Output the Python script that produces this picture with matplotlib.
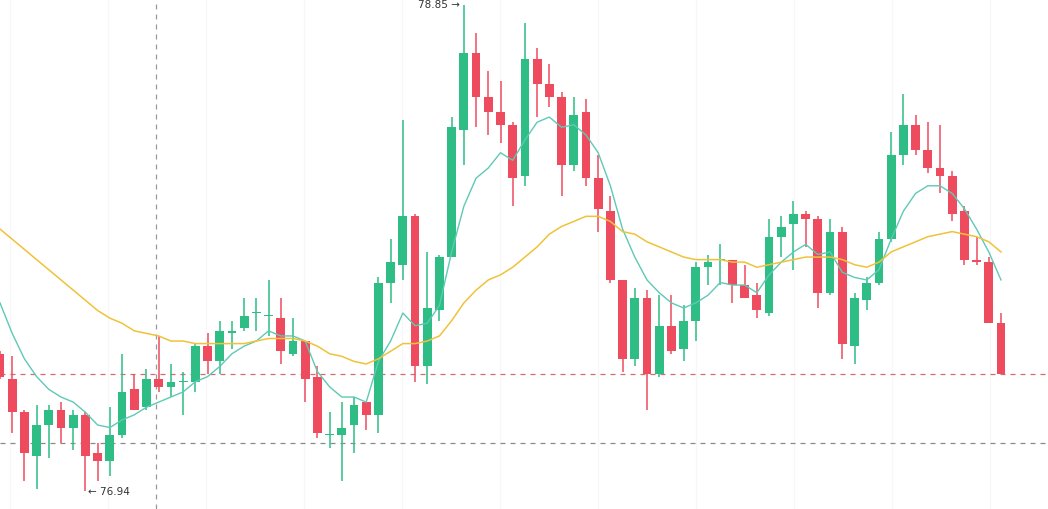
import numpy as np
import matplotlib
matplotlib.use("Agg")
import matplotlib.pyplot as plt

# candles (price units)
opens = [77.48, 77.38, 77.25, 77.08, 77.20, 77.26, 77.19, 77.24, 77.09, 77.06,
         77.16, 77.34, 77.27, 77.38, 77.35, 77.37, 77.37, 77.51, 77.45, 77.56,
         77.58, 77.64, 77.63, 77.62, 77.48, 77.53, 77.39, 77.16, 77.16, 77.20,
         77.29, 77.24, 77.76, 77.83, 78.02, 77.43, 77.65, 77.86, 78.36, 78.66,
         78.49, 78.43, 78.38, 78.18, 78.64, 78.54, 78.49, 78.22, 78.43, 78.17,
         78.04, 77.77, 77.46, 77.70, 77.40, 77.59, 77.50, 77.61, 77.82, 77.85,
         77.85, 77.75, 77.71, 77.64, 77.94, 77.99, 78.03, 78.01, 77.72, 77.96,
         77.51, 77.69, 77.76, 77.93, 78.26, 78.38, 78.28, 78.21, 78.18, 78.04,
         77.85, 77.84, 77.60]
highs = [77.49, 77.47, 77.26, 77.28, 77.28, 77.29, 77.26, 77.25, 77.13, 77.27,
         77.48, 77.40, 77.42, 77.55, 77.44, 77.41, 77.52, 77.56, 77.61, 77.61,
         77.70, 77.70, 77.77, 77.70, 77.62, 77.53, 77.43, 77.25, 77.29, 77.31,
         77.29, 77.78, 77.93, 78.40, 78.03, 77.88, 77.87, 78.41, 78.85, 78.74,
         78.59, 78.55, 78.39, 78.78, 78.68, 78.62, 78.51, 78.49, 78.48, 78.26,
         78.10, 77.77, 77.74, 77.73, 77.71, 77.71, 77.67, 77.84, 77.87, 77.91,
         77.85, 77.83, 77.76, 78.01, 78.02, 78.08, 78.04, 78.02, 78.01, 77.98,
         77.72, 77.78, 77.96, 78.35, 78.50, 78.42, 78.39, 78.38, 78.20, 78.06,
         77.94, 77.86, 77.64]
lows = [77.38, 77.17, 76.98, 76.95, 77.07, 77.13, 77.10, 76.94, 76.98, 77.00,
        77.15, 77.26, 77.26, 77.33, 77.31, 77.24, 77.33, 77.40, 77.40, 77.50,
        77.57, 77.57, 77.55, 77.44, 77.47, 77.29, 77.15, 77.11, 76.98, 77.09,
        77.18, 77.17, 77.68, 77.77, 77.37, 77.36, 77.61, 77.86, 78.22, 78.37,
        78.34, 78.31, 78.06, 78.14, 78.41, 78.45, 78.10, 78.20, 78.14, 77.96,
        77.76, 77.41, 77.43, 77.26, 77.39, 77.48, 77.45, 77.53, 77.75, 77.75,
        77.68, 77.70, 77.62, 77.63, 77.86, 77.81, 77.90, 77.66, 77.71, 77.46,
        77.44, 77.65, 77.75, 77.92, 78.22, 78.26, 78.19, 78.11, 78.00, 77.83,
        77.83, 77.60, 77.40]
closes = [77.39, 77.25, 77.09, 77.20, 77.26, 77.19, 77.24, 77.08, 77.06, 77.16,
          77.33, 77.26, 77.38, 77.35, 77.37, 77.37, 77.51, 77.45, 77.57, 77.57,
          77.63, 77.64, 77.63, 77.49, 77.53, 77.38, 77.17, 77.16, 77.19, 77.28,
          77.24, 77.76, 77.84, 78.02, 77.43, 77.66, 77.86, 78.37, 78.66, 78.49,
          78.43, 78.38, 78.17, 78.64, 78.54, 78.49, 78.22, 78.42, 78.17, 78.05,
          77.77, 77.46, 77.70, 77.40, 77.59, 77.49, 77.61, 77.82, 77.84, 77.85,
          77.75, 77.70, 77.65, 77.94, 77.98, 78.03, 78.01, 77.72, 77.96, 77.52,
          77.70, 77.76, 77.93, 78.26, 78.38, 78.28, 78.21, 78.18, 78.03, 77.85,
          77.84, 77.60, 77.40]

# moving average lines as drawn on the chart
ma_fast = [77.68, 77.56, 77.46, 77.39, 77.34, 77.31, 77.29, 77.25, 77.20, 77.19,
           77.22, 77.24, 77.27, 77.29, 77.31, 77.33, 77.37, 77.39, 77.43, 77.48,
           77.51, 77.53, 77.57, 77.55, 77.55, 77.53, 77.41, 77.35, 77.31, 77.31,
           77.29, 77.45, 77.53, 77.64, 77.59, 77.60, 77.67, 77.88, 78.06, 78.17,
           78.21, 78.27, 78.24, 78.32, 78.39, 78.41, 78.37, 78.38, 78.34, 78.27,
           78.14, 77.97, 77.86, 77.77, 77.72, 77.68, 77.66, 77.68, 77.71, 77.76,
           77.75, 77.75, 77.72, 77.79, 77.84, 77.88, 77.91, 77.87, 77.88, 77.80,
           77.78, 77.77, 77.81, 77.93, 78.04, 78.11, 78.14, 78.14, 78.11, 78.05,
           77.97, 77.88, 77.77]
ma_slow = [77.97, 77.93, 77.89, 77.85, 77.81, 77.77, 77.73, 77.69, 77.65, 77.62,
           77.60, 77.57, 77.56, 77.55, 77.53, 77.53, 77.52, 77.52, 77.52, 77.52,
           77.52, 77.53, 77.54, 77.54, 77.54, 77.53, 77.51, 77.48, 77.47, 77.45,
           77.44, 77.46, 77.49, 77.52, 77.52, 77.53, 77.55, 77.61, 77.68, 77.73,
           77.77, 77.79, 77.82, 77.86, 77.90, 77.95, 77.98, 78.00, 78.02, 78.02,
           78.00, 77.96, 77.95, 77.92, 77.90, 77.88, 77.86, 77.85, 77.85, 77.85,
           77.84, 77.84, 77.82, 77.83, 77.84, 77.85, 77.86, 77.86, 77.86, 77.85,
           77.83, 77.82, 77.84, 77.88, 77.90, 77.92, 77.94, 77.95, 77.96, 77.95,
           77.94, 77.92, 77.88]

doji_up = [15, 21, 22, 27, 59]
last_price = 77.40
level_price = 77.13
high_label = "78.85"
low_label = "76.94"

GREEN = "#2ebd85"
RED = "#ef4b5f"

o = np.array(opens)
h = np.array(highs)
l = np.array(lows)
c = np.array(closes)
idx = np.arange(len(o))
up = (c > o) | np.isin(idx, doji_up)
cols = np.where(up, GREEN, RED)

fig = plt.figure(figsize=(10.48, 5.10), dpi=100)
ax = fig.add_axes([0, 0, 1, 1])

# faint vertical grid
for gx in np.arange(0.8, 86, 8.03):
    ax.axvline(gx, color="#f7f7f7", lw=0.8, zorder=0)

ax.vlines(idx, l, h, colors=cols, lw=1.1, zorder=2)
body_lo = np.minimum(o, c)
body_h = np.maximum(np.abs(c - o), 0.004)
ax.bar(idx, body_h, bottom=body_lo, width=0.72, color=cols, lw=0, zorder=3)

ax.plot(idx, ma_fast, color="#5ec9b6", lw=1.0, zorder=4)
ax.plot(idx, ma_slow, color="#f0c23a", lw=1.1, zorder=4)

ax.axhline(last_price, color="#d46a72", lw=0.9, ls=(0, (4, 4)), zorder=1)
ax.axhline(level_price, color="#8a8a8a", lw=0.9, ls=(0, (4, 4)), zorder=1)
ax.axvline(12.8, color="#9a9a9a", lw=0.9, ls=(0, (4, 4)), zorder=1)

ax.text(37.7, 78.854, high_label + " \u2192", ha="right", va="center",
        fontsize=7.5, color="#333333")
ax.text(7.2, 76.942, "\u2190 " + low_label, ha="left", va="center",
        fontsize=7.5, color="#333333")

ax.set_xlim(0, 85.85)
ax.set_ylim(76.870, 78.874)
ax.axis("off")

fig.savefig("out.png", dpi=100, facecolor="white")
